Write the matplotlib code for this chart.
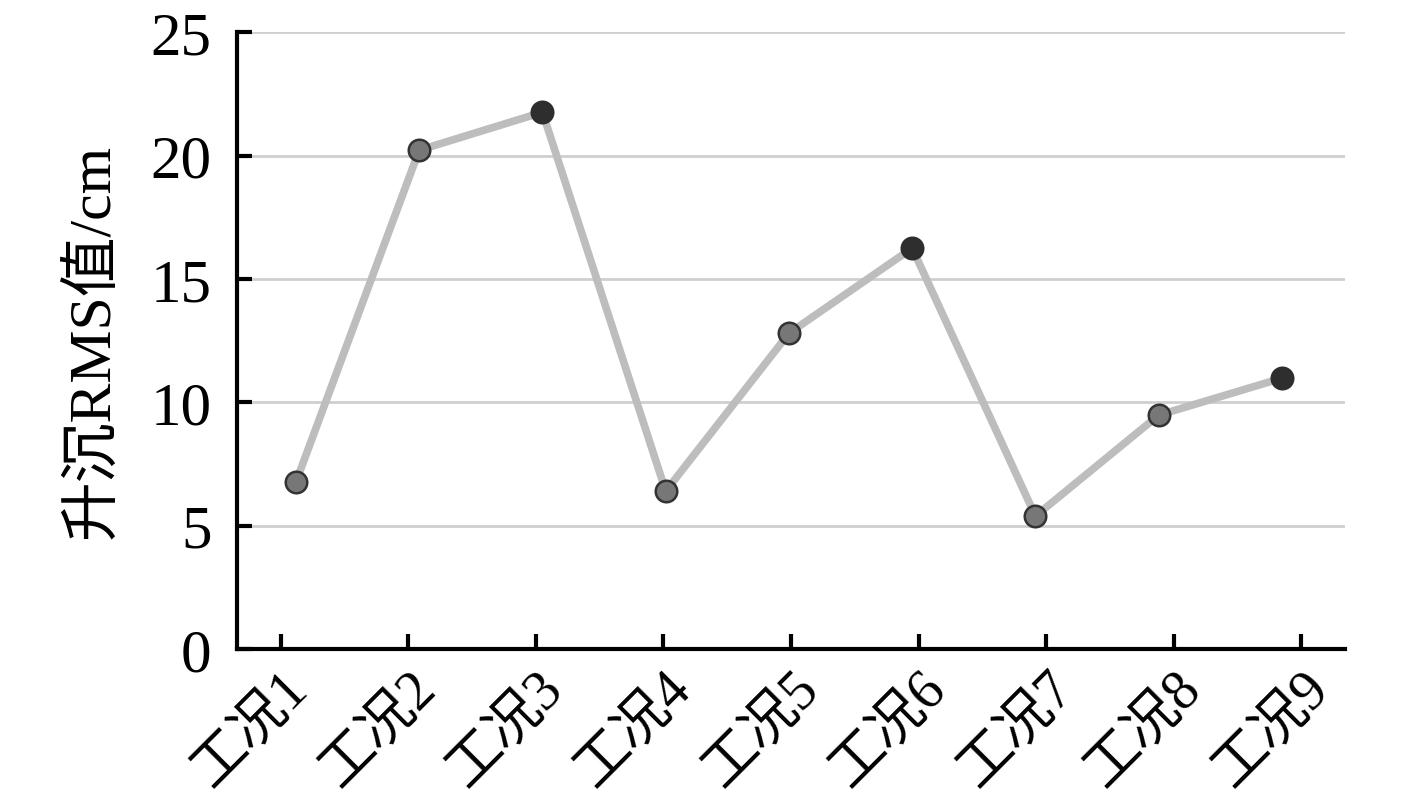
import numpy as np
import matplotlib
matplotlib.use('Agg')
import matplotlib.pyplot as plt
import matplotlib.transforms as mtransforms

# Data

cases = ['工况1', '工况2', '工况3', '工况4', '工况5', '工况6', '工况7', '工况8', '工况9']
rms = [6.77, 20.22, 21.76, 6.40, 12.80, 16.25, 5.39, 9.48, 10.98]
dark_points = [2, 5, 8]   # markers drawn in solid black

yticks = [0, 5, 10, 15, 20, 25]

plt.rcParams['font.family'] = ['Liberation Serif', 'Noto Sans CJK SC']

fig = plt.figure(figsize = (14.17, 8.12), dpi = 100)
ax = fig.add_axes([0.167, 0.1995, 0.782, 0.7595])

# markers sit slightly off the category ticks in the original
ticks = np.arange(len(cases))
xs = ticks * 0.966 + 0.12

ax.plot(xs, rms, color = '#bdbdbd', linewidth = 5.5, zorder = 2)

light = [i for i in range(len(rms)) if i not in dark_points]
ax.scatter(xs[light], [rms[i] for i in light], s = 240, color = '#777777',
           edgecolors = '#333333', linewidths = 1.8, zorder = 3)
ax.scatter(xs[dark_points], [rms[i] for i in dark_points], s = 240, color = '#2e2e2e',
           edgecolors = '#2e2e2e', linewidths = 1.8, zorder = 3)

ax.set_ylim(0, 25)
ax.set_xlim(-0.345, 8.34)
ax.set_yticks(yticks)
ax.set_yticklabels([str(v) for v in yticks], fontsize = 44)
ax.set_xticks(ticks)
ax.set_xticklabels(cases, fontsize = 40, rotation = 45, ha = 'right', va = 'top',
                   rotation_mode = 'anchor')
shift = mtransforms.ScaledTranslation(0.3, 0, fig.dpi_scale_trans)
for lab in ax.get_xticklabels():
    lab.set_transform(lab.get_transform() + shift)

for v in yticks[1:]:
    ax.axhline(v, color = '#cfcfcf', linewidth = 2, zorder = 1)

for side in ['top', 'right']:
    ax.spines[side].set_visible(False)
for side in ['left', 'bottom']:
    ax.spines[side].set_linewidth(3)
    ax.spines[side].set_color('black')

ax.tick_params(axis = 'both', direction = 'in', length = 11, width = 3, colors = 'black')
ax.tick_params(axis = 'y', pad = 18)
ax.tick_params(axis = 'x', pad = 9)

ax.set_ylabel('升沉RMS值/cm', fontsize = 43)
ax.yaxis.set_label_coords(-0.104, 0.5)

fig.savefig('out.png', dpi = 100)
